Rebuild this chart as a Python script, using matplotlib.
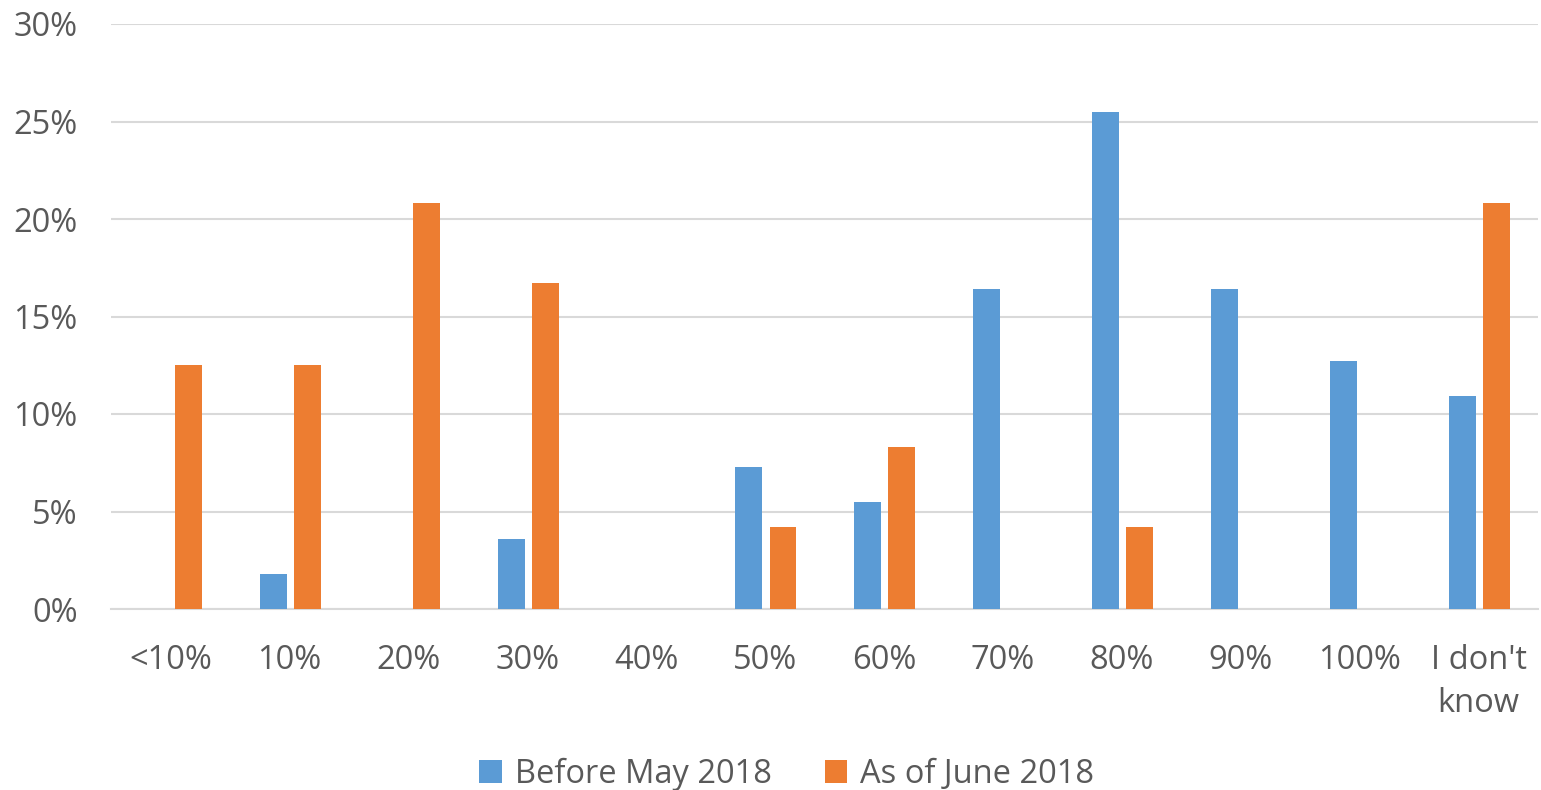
import matplotlib
matplotlib.use("Agg")
import matplotlib.pyplot as plt
import numpy as np
from matplotlib.ticker import FuncFormatter

categories = ["<10%", "10%", "20%", "30%", "40%", "50%", "60%", "70%", "80%", "90%", "100%", "I don't\nknow"]
before_may_2018 = [0, 1.8, 0, 3.6, 0, 7.3, 5.5, 16.4, 25.5, 16.4, 12.7, 10.9]
as_of_june_2018 = [12.5, 12.5, 20.8, 16.7, 0, 4.2, 8.3, 0, 4.2, 0, 0, 20.8]
series_names = ["Before May 2018", "As of June 2018"]
yticks = [0, 5, 10, 15, 20, 25, 30]

plt.rcParams['font.family'] = ['Open Sans', 'DejaVu Sans']
text_color = "#595959"
blue = "#5B9BD5"
orange = "#ED7D31"
fs = 23.5

fig = plt.figure(figsize=(15.41, 7.90), dpi=100)
ax = fig.add_axes([111/1541, 1 - 609/790, (1538-111)/1541, (609-24)/790])

x = np.arange(len(categories))
w = 0.227
off = 0.143
ax.bar(x - off + 0.008, before_may_2018, width=w, color=blue, label=series_names[0], zorder=3)
ax.bar(x + off + 0.008, as_of_june_2018, width=w, color=orange, label=series_names[1], zorder=3)

ax.set_xlim(-0.5, len(categories) - 0.5)
ax.set_ylim(0, 30)
ax.set_yticks(yticks)
ax.yaxis.set_major_formatter(FuncFormatter(lambda v, p: f"{int(v)}%"))
ax.set_xticks(x)
ax.set_xticklabels(categories, linespacing=1.4)
ax.tick_params(axis='both', length=0, labelsize=fs, colors=text_color)
ax.tick_params(axis='x', pad=25)
ax.tick_params(axis='y', pad=24)

ax.grid(axis='y', color="#D9D9D9", linewidth=1.5, zorder=0)
for s in ["top", "right", "left"]:
    ax.spines[s].set_visible(False)
ax.spines["bottom"].set_color("#D9D9D9")
ax.spines["bottom"].set_linewidth(1.5)

leg = fig.legend(loc='center', bbox_to_anchor=(787/1541, 1 - 774/790), ncol=2, frameon=False,
                 fontsize=fs, handlelength=0.7, handleheight=0.7, handletextpad=0.4,
                 columnspacing=1.6)
for t in leg.get_texts():
    t.set_color(text_color)

fig.savefig("out.png", dpi=100)
